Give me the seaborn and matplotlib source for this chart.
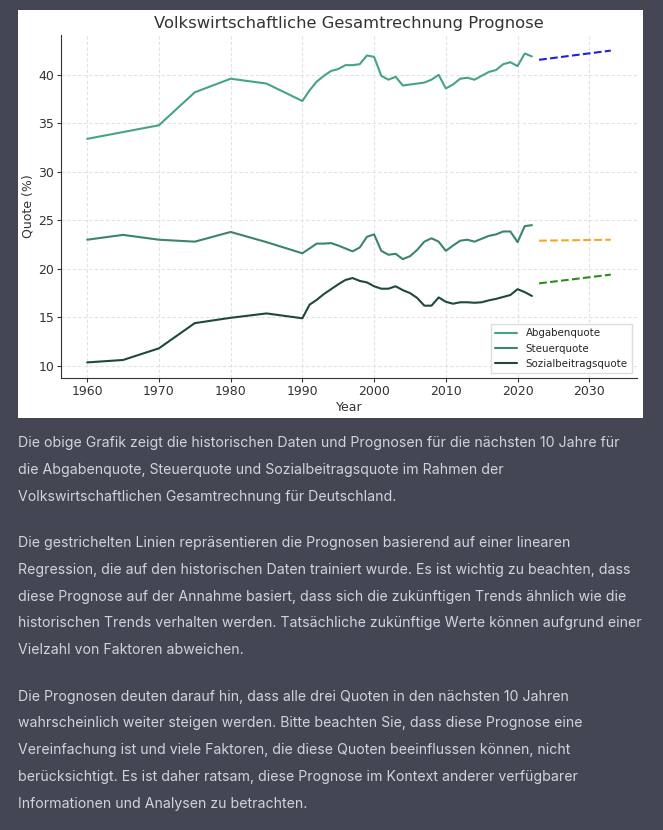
import numpy as np
import pandas as pd
import seaborn as sns
import matplotlib.pyplot as plt
from matplotlib.patches import Rectangle

# Historical data
years = [1960, 1965, 1970, 1975, 1980, 1985, 1990] + list(range(1991, 2023))
abgabenquote = [33.4, 34.1, 34.8, 38.2, 39.6, 39.1, 37.3,
                38.4, 39.3, 39.9, 40.4, 40.6, 41.0, 41.0, 41.1, 42.0, 41.85,
                39.9, 39.5, 39.8, 38.9, 39.0, 39.1, 39.2, 39.5, 40.0, 38.6,
                39.0, 39.6, 39.7, 39.5, 39.9, 40.3, 40.5, 41.1, 41.3, 40.9,
                42.2, 41.9]
steuerquote = [23.0, 23.5, 23.0, 22.8, 23.8, 22.75, 21.6,
               22.1, 22.6, 22.6, 22.65, 22.4, 22.1, 21.8, 22.2, 23.3, 23.55,
               21.85, 21.45, 21.55, 21.0, 21.3, 21.95, 22.8, 23.15, 22.8, 21.85,
               22.4, 22.9, 23.0, 22.8, 23.1, 23.4, 23.55, 23.85, 23.85, 22.75,
               24.4, 24.5]
sozialquote = [10.35, 10.6, 11.8, 14.4, 14.95, 15.4, 14.9,
               16.3, 16.8, 17.4, 17.9, 18.4, 18.85, 19.05, 18.75, 18.6, 18.2,
               17.95, 17.95, 18.2, 17.8, 17.5, 17.0, 16.2, 16.2, 17.05, 16.6,
               16.4, 16.55, 16.55, 16.5, 16.55, 16.75, 16.9, 17.1, 17.3, 17.9,
               17.6, 17.2]

# Forecast end points (2023 and 2033)
forecast_years = [2023, 2033]
abgaben_forecast = [41.55, 42.5]
steuer_forecast = [22.9, 23.0]
sozial_forecast = [18.5, 19.4]

paragraphs = [
    ["Die obige Grafik zeigt die historischen Daten und Prognosen für die nächsten 10 Jahre für",
     "die Abgabenquote, Steuerquote und Sozialbeitragsquote im Rahmen der",
     "Volkswirtschaftlichen Gesamtrechnung für Deutschland."],
    ["Die gestrichelten Linien repräsentieren die Prognosen basierend auf einer linearen",
     "Regression, die auf den historischen Daten trainiert wurde. Es ist wichtig zu beachten, dass",
     "diese Prognose auf der Annahme basiert, dass sich die zukünftigen Trends ähnlich wie die",
     "historischen Trends verhalten werden. Tatsächliche zukünftige Werte können aufgrund einer",
     "Vielzahl von Faktoren abweichen."],
    ["Die Prognosen deuten darauf hin, dass alle drei Quoten in den nächsten 10 Jahren",
     "wahrscheinlich weiter steigen werden. Bitte beachten Sie, dass diese Prognose eine",
     "Vereinfachung ist und viele Faktoren, die diese Quoten beeinflussen können, nicht",
     "berücksichtigt. Es ist daher ratsam, diese Prognose im Kontext anderer verfügbarer",
     "Informationen und Analysen zu betrachten."],
]

hist = pd.DataFrame({"Year": years, "Abgabenquote": abgabenquote,
                     "Steuerquote": steuerquote, "Sozialbeitragsquote": sozialquote})
fc = pd.DataFrame({"Year": forecast_years, "Abgabenquote": abgaben_forecast,
                   "Steuerquote": steuer_forecast, "Sozialbeitragsquote": sozial_forecast})

sns.set_style("whitegrid", {"grid.linestyle": (0, (3, 2)), "grid.color": "#e2e2e2",
                            "axes.edgecolor": "#333333",
                            "xtick.bottom": True, "ytick.left": True})
plt.rcParams["font.family"] = ["DejaVu Sans"]

W, H = 663, 830
fig = plt.figure(figsize=(W / 100, H / 100), dpi=100, facecolor="#444654")

# white panel behind the chart
fig.patches.append(Rectangle((18 / W, 1 - 418 / H), (643 - 18) / W, (418 - 10) / H,
                             transform=fig.transFigure, facecolor="white",
                             edgecolor="none", zorder=-5))

ax = fig.add_axes([61 / W, 1 - 378 / H, (637 - 61) / W, (378 - 35) / H])
ax.set_zorder(2)

colors = {"Abgabenquote": "#45a581", "Steuerquote": "#3b8568", "Sozialbeitragsquote": "#1d4a36"}
for col in ["Abgabenquote", "Steuerquote", "Sozialbeitragsquote"]:
    sns.lineplot(data=hist, x="Year", y=col, ax=ax, color=colors[col], label=col, linewidth=1.5)

fc_colors = {"Abgabenquote": "#1f1fe8", "Steuerquote": "#f5a623", "Sozialbeitragsquote": "#2e8b1e"}
for col in ["Abgabenquote", "Steuerquote", "Sozialbeitragsquote"]:
    sns.lineplot(data=fc, x="Year", y=col, ax=ax, color=fc_colors[col],
                 linestyle="--", linewidth=1.5, legend=False)

sns.despine(ax=ax)
ax.set_xticks([1960, 1970, 1980, 1990, 2000, 2010, 2020, 2030])
ax.set_yticks([10, 15, 20, 25, 30, 35, 40])
ax.tick_params(labelsize=9, length=3, width=0.8, colors="#333333", pad=2)
ax.set_xlabel("Year", fontsize=9, color="#333333", labelpad=2)
ax.set_ylabel("Quote (%)", fontsize=9, color="#333333", labelpad=3)
ax.set_title("Volkswirtschaftliche Gesamtrechnung Prognose", fontsize=11.8,
             color="#333333", pad=5)
ax.legend(loc="lower right", fontsize=7.4, frameon=True, framealpha=1,
          edgecolor="#dddddd", fancybox=False, handlelength=2.2)

# text below the chart
y = 443
for para in paragraphs:
    for line in para:
        fig.text(18 / W, 1 - y / H, line, fontsize=10.15, color="#d1d5db",
                 family=["Inter", "DejaVu Sans"], va="center", ha="left")
        y += 26.8
    y += 19.6

fig.savefig("out.png", dpi=100, facecolor=fig.get_facecolor())
